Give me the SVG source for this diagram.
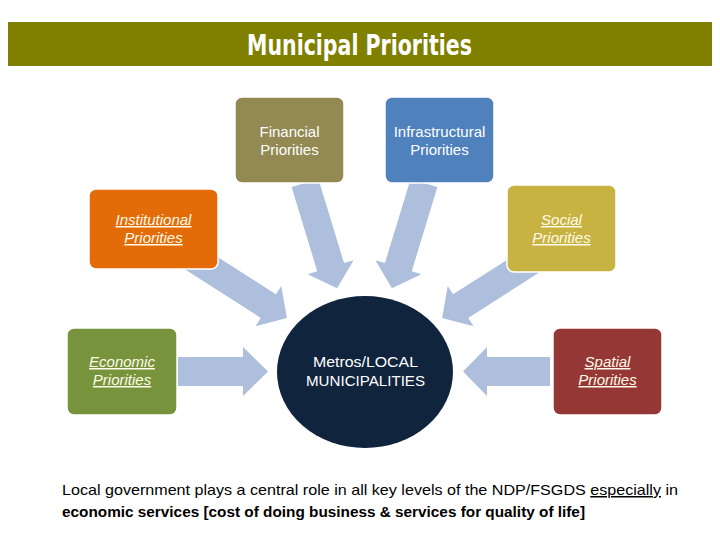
<svg xmlns="http://www.w3.org/2000/svg" width="720" height="540" viewBox="0 0 720 540">
<style>
.arrow{fill:#adbfdc}
.box{stroke:#ffffff;stroke-width:1.5}
.lbl{font-family:"Liberation Sans",Arial,sans-serif;font-size:15px;fill:#ffffff;text-anchor:middle}
.it{font-style:italic;text-decoration:underline;fill:#fffbea}
.foot{font-family:"Liberation Sans",Arial,sans-serif;font-size:15px;fill:#000000}
</style>
<rect x="0" y="0" width="720" height="540" fill="#ffffff"/>
<g id="title">
<rect x="8" y="22" width="704" height="44" fill="#808000"/>
<text x="359.5" y="54.5" text-anchor="middle" font-family="'Liberation Sans Narrow','DejaVu Sans Condensed',sans-serif" font-weight="bold" font-size="29" fill="#ffffff" textLength="225" lengthAdjust="spacingAndGlyphs">Municipal Priorities</text>
</g>
<g id="connectors">
<polygon class="arrow" transform="translate(305,183) rotate(73.05)" points="0,-14 88,-14 88,-24 110,0 88,24 88,14 0,14"/>
<polygon class="arrow" transform="translate(424,183) rotate(106.95)" points="0,-14 88,-14 88,-24 110,0 88,24 88,14 0,14"/>
<polygon class="arrow" transform="translate(190,256) rotate(32.6)" points="0,-14 93,-14 93,-24 115,0 93,24 93,14 0,14"/>
<polygon class="arrow" transform="translate(539,256) rotate(147.4)" points="0,-14 93,-14 93,-24 115,0 93,24 93,14 0,14"/>
<polygon class="arrow" points="178,357 243,357 243,347 268,371.5 243,396 243,386 178,386"/>
<polygon class="arrow" points="550,357 487,357 487,347 463,371.5 487,396 487,386 550,386"/>
</g>
<g id="financial">
<rect class="box" x="235" y="97" width="109" height="86" rx="7" fill="#938953"/>
<text class="lbl" x="289.5" y="137">Financial</text>
<text class="lbl" x="289.5" y="155">Priorities</text>
</g>
<g id="infrastructural">
<rect class="box" x="385" y="97" width="109" height="86" rx="7" fill="#4f81bd"/>
<text class="lbl" x="439.5" y="137">Infrastructural</text>
<text class="lbl" x="439.5" y="155">Priorities</text>
</g>
<g id="institutional">
<rect class="box" x="89" y="189" width="129" height="80" rx="7" fill="#e36c09"/>
<text class="lbl it" x="153.5" y="225">Institutional</text>
<text class="lbl it" x="153.5" y="243">Priorities</text>
</g>
<g id="social">
<rect class="box" x="507" y="185" width="109" height="87" rx="7" fill="#c8b342"/>
<text class="lbl it" x="561.5" y="225">Social</text>
<text class="lbl it" x="561.5" y="243">Priorities</text>
</g>
<g id="economic">
<rect class="box" x="67" y="328" width="110" height="87" rx="7" fill="#77933c"/>
<text class="lbl it" x="122" y="367">Economic</text>
<text class="lbl it" x="122" y="385">Priorities</text>
</g>
<g id="spatial">
<rect class="box" x="553" y="328" width="109" height="87" rx="7" fill="#953735"/>
<text class="lbl it" x="607.5" y="367">Spatial</text>
<text class="lbl it" x="607.5" y="385">Priorities</text>
</g>
<g id="metros">
<ellipse cx="365" cy="372" rx="88" ry="76" fill="#10243e"/>
<text class="lbl" x="365.5" y="367" textLength="105" lengthAdjust="spacingAndGlyphs">Metros/LOCAL</text>
<text class="lbl" x="365.5" y="386" textLength="119" lengthAdjust="spacingAndGlyphs">MUNICIPALITIES</text>
</g>
<g id="caption">
<text class="foot" x="62" y="495" textLength="616" lengthAdjust="spacingAndGlyphs">Local government plays a central role in all key levels of the NDP/FSGDS <tspan text-decoration="underline">especially</tspan> in</text>
<text class="foot" x="62" y="517" font-weight="bold" textLength="523" lengthAdjust="spacingAndGlyphs">economic services [cost of doing business &amp; services for quality of life]</text>
</g>
</svg>
